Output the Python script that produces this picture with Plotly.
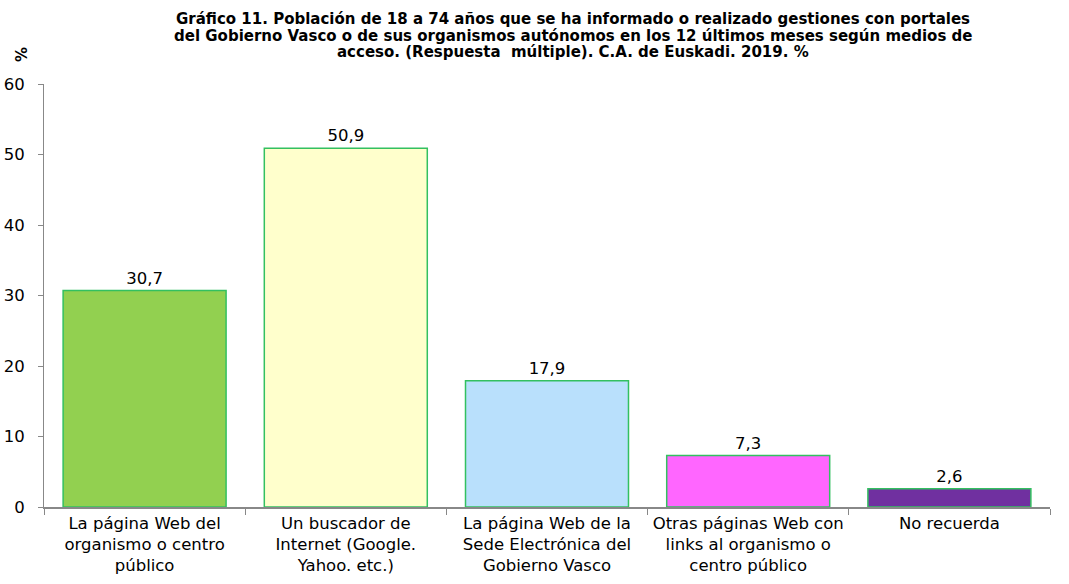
import plotly.graph_objects as go

categories = [
    "La página Web del<br>organismo o centro<br>público",
    "Un buscador de<br>Internet (Google.<br>Yahoo. etc.)",
    "La página Web de la<br>Sede Electrónica del<br>Gobierno Vasco",
    "Otras páginas Web con<br>links al organismo o<br>centro público",
    "No recuerda",
]
values = [30.7, 50.9, 17.9, 7.3, 2.6]
value_labels = ["30,7", "50,9", "17,9", "7,3", "2,6"]
colors = ["#92d050", "#ffffcc", "#b9e0fc", "#ff66ff", "#7030a0"]

title_lines = [
    "Gráfico 11. Población de 18 a 74 años que se ha informado o realizado gestiones con portales",
    "del Gobierno Vasco o de sus organismos autónomos en los 12 últimos meses según medios de",
    "acceso. (Respuesta  múltiple). C.A. de Euskadi. 2019. %",
]

FONT = "DejaVu Sans, Arial"

fig = go.Figure(go.Bar(
    x=categories, y=values, width=0.81,
    marker=dict(color=colors, line=dict(color="#33c060", width=1.5)),
    text=value_labels, textposition="outside",
    textfont=dict(family=FONT, size=16.5, color="#000"),
    cliponaxis=False,
))

H = 584
L, R, T, B = 44, 19, 84, 77
pw, ph = 1069 - L - R, H - T - B

def px2paper(px, py):
    return (px - L) / pw, 1 - (py - T) / ph

annots = []
for i, line in enumerate(title_lines):
    x, y = px2paper(573, 19 + 16.5 * i)
    annots.append(dict(text="<b>" + line + "</b>", x=x, y=y, xref="paper", yref="paper",
                       showarrow=False, xanchor="center", yanchor="middle",
                       font=dict(family=FONT, size=15, color="#000")))
x, y = px2paper(22, 55)
annots.append(dict(text="<b>%</b>", x=x, y=y, xref="paper", yref="paper",
                   showarrow=False, textangle=-90, xanchor="center", yanchor="middle",
                   font=dict(family=FONT, size=15, color="#000")))

fig.update_layout(
    width=1069, height=H,
    paper_bgcolor="white", plot_bgcolor="white",
    margin=dict(l=L, r=R, t=T, b=B, autoexpand=False),
    font=dict(family=FONT, size=16.5, color="#000"),
    showlegend=False,
    annotations=annots,
)

fig.update_yaxes(range=[0, 60], dtick=10, showgrid=False, showline=True,
                 linecolor="#888", linewidth=1, ticks="outside", ticklen=5,
                 tickcolor="#888", zeroline=False, automargin=False,
                 ticklabelstandoff=10, tickfont=dict(family=FONT, size=16.5))
fig.update_xaxes(showline=True, linecolor="#888", linewidth=1.5, ticks="outside",
                 tickson="boundaries", ticklen=6, tickcolor="#888", automargin=False,
                 tickfont=dict(family=FONT, size=16.5))

fig.write_html("out.html", config={"displayModeBar": False},
               post_script="document.body.style.margin='0';")
